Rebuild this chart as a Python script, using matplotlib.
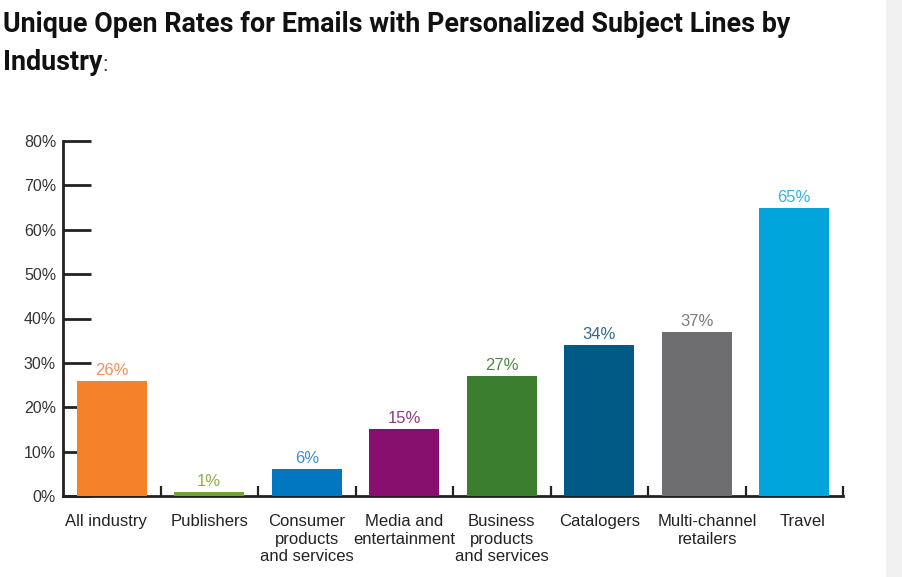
import matplotlib
matplotlib.use("Agg")
import matplotlib.pyplot as plt
from matplotlib.patches import Rectangle

categories = ["All industry", "Publishers", "Consumer\nproducts\nand services",
              "Media and\nentertainment", "Business\nproducts\nand services",
              "Catalogers", "Multi-channel\nretailers", "Travel"]
rates = [26, 1, 6, 15, 27, 34, 37, 65]
bar_colors = ["#F5822A", "#72A03A", "#0077C0", "#870F6E",
              "#3A7D2E", "#005A85", "#6E6E70", "#00A6DB"]
label_colors = ["#F7915A", "#8DB04E", "#3C8ED2", "#8E3A80",
                "#4E8A42", "#2F6A92", "#7C7C7E", "#3AB0E2"]
yticks = [0, 10, 20, 30, 40, 50, 60, 70, 80]

W, H = 902, 577
fig = plt.figure(figsize=(W / 100, H / 100), dpi=100)
fig.patch.set_facecolor("white")

# grey strip on the right edge
fig.patches.append(Rectangle((886 / W, 0), 1 - 886 / W, 1, transform=fig.transFigure,
                             facecolor="#F1F1F1", edgecolor="none", zorder=0))

ax = fig.add_axes([63 / W, (H - 496) / H, (843 - 63) / W, (496 - 141) / H])
x = list(range(len(categories)))
ax.bar(x, rates, width=0.72, color=bar_colors, zorder=3)
for i, v in enumerate(rates):
    ax.annotate(f"{v}%", xy=(i, v), xytext=(0, 4.3), textcoords="offset points",
                ha="center", va="baseline", fontsize=12,
                color=label_colors[i], family="Liberation Sans")

ax.set_xlim(-0.5, len(categories) - 0.5)
ax.set_ylim(0, 80)
for s in ["top", "right"]:
    ax.spines[s].set_visible(False)
for s in ["left", "bottom"]:
    ax.spines[s].set_linewidth(2)
    ax.spines[s].set_color("#222222")

ax.set_yticks(yticks)
ax.set_yticklabels([f"{t}%" for t in yticks], family="Liberation Sans", fontsize=11.5, color="#333333")
ax.tick_params(axis="y", direction="in", length=20, width=2, color="#222222", pad=5)

# small ticks between categories on the x axis
ax.set_xticks([i + 0.5 for i in x])
ax.set_xticklabels([])
ax.tick_params(axis="x", direction="in", length=7, width=1.6, color="#222222")
# the category labels in the original are not all exactly centred
label_shift = [-4.5, 0, 0, 0, 0, 0, 7.5, 6]
for i, c in enumerate(categories):
    ax.annotate(c, xy=(i, 0), xytext=(label_shift[i], -13), textcoords="offset points",
                ha="center", va="top", fontsize=12, color="#222222",
                family="Liberation Sans", linespacing=1.22, annotation_clip=False)

t1 = fig.text(3 / W, 1 - 11 / H, "Unique Open Rates for Emails with Personalized Subject Lines by",
              fontsize=19.4, fontweight="bold", family="Roboto", va="top", ha="left", color="#111111")
t2 = fig.text(3 / W, 1 - 49 / H, "Industry", fontsize=19.4, fontweight="bold", family="Roboto",
              va="top", ha="left", color="#111111")
ax.annotate(":", xy=(1, 0), xycoords=t2, xytext=(0.3, 0), textcoords="offset points",
            fontsize=16, family="Roboto", color="#444444", va="bottom", ha="left",
            annotation_clip=False)

fig.savefig("out.png", dpi=100)
